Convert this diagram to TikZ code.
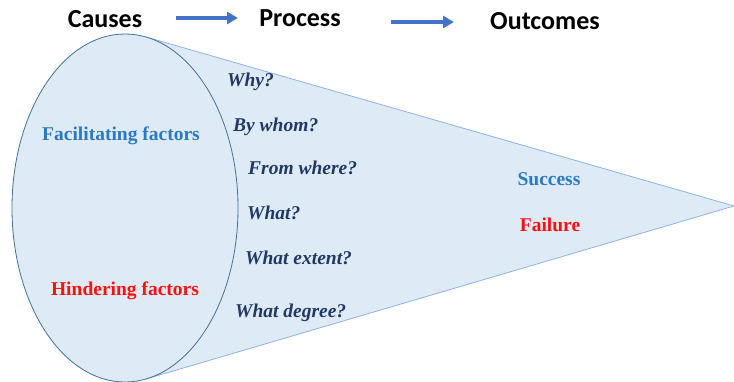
\documentclass[tikz,border=0pt]{standalone}
\usepackage{fontspec}
\setmainfont{Liberation Serif}
\newfontfamily\calib{Carlito}
\usetikzlibrary{arrows.meta}
\definecolor{conefill}{HTML}{DEEBF7}
\definecolor{ellline}{HTML}{41719C}
\definecolor{coneline}{HTML}{8DB4E2}
\definecolor{arrowblue}{HTML}{4472C4}
\definecolor{qnavy}{HTML}{1F3864}
\definecolor{facblue}{HTML}{2A7AC2}
\definecolor{hinred}{HTML}{FF1010}
\tikzset{
  header/.style={anchor=base, font=\calib\bfseries\fontsize{26}{30}\selectfont, text=black, inner sep=0pt},
  question/.style={anchor=base west, font=\bfseries\itshape\fontsize{19.5}{23}\selectfont, text=qnavy, inner sep=0pt},
  factor/.style={anchor=base, font=\bfseries\fontsize{19.5}{23}\selectfont, inner sep=0pt},
  flow/.style={arrowblue, line width=3.8pt, -{Triangle[length=11pt,width=12pt]}},
  coneedge/.style={coneline, line width=0.8pt},
}
\begin{document}
\begin{tikzpicture}[x=1pt,y=-1pt]
\useasboundingbox (0,0) rectangle (734,382);
\clip (0,0) rectangle (734,382);
% cone
\coordinate (ctop) at (146,37);
\coordinate (cbot) at (146,379);
\coordinate (tip) at (734,206);
\fill[conefill] (125,208) -- (ctop) -- (tip) -- (cbot) -- cycle;
\draw[coneedge] (ctop) -- (tip) -- (cbot);
% ellipse
\draw[ellline, fill=conefill, line width=0.8pt] (125,208) ellipse [x radius=113, y radius=174];
% headers
\node[header] (causes) at (105,28) {Causes};
\node[header] (process) at (300,27) {Process};
\node[header] (outcomes) at (545,30) {Outcomes};
\coordinate (a1s) at (176,18);
\coordinate (a1e) at (238,18);
\coordinate (a2s) at (391,22);
\coordinate (a2e) at (454,22);
\draw[flow] (a1s) -- (a1e);
\draw[flow] (a2s) -- (a2e);
% questions
\node[question] (q1) at (227,87) {Why?};
\node[question] (q2) at (233,132) {By whom?};
\node[question] (q3) at (248,175) {From where?};
\node[question] (q4) at (247,220) {What?};
\node[question] (q5) at (245,265) {What extent?};
\node[question] (q6) at (235,317) {What degree?};
% factors
\node[factor, text=facblue] (fac) at (121,141) {Facilitating factors};
\node[factor, text=hinred] (hin) at (125,295) {Hindering factors};
\node[factor, text=facblue] (succ) at (549,186) {Success};
\node[factor, text=hinred] (fail) at (550,232) {Failure};
\end{tikzpicture}
\end{document}
